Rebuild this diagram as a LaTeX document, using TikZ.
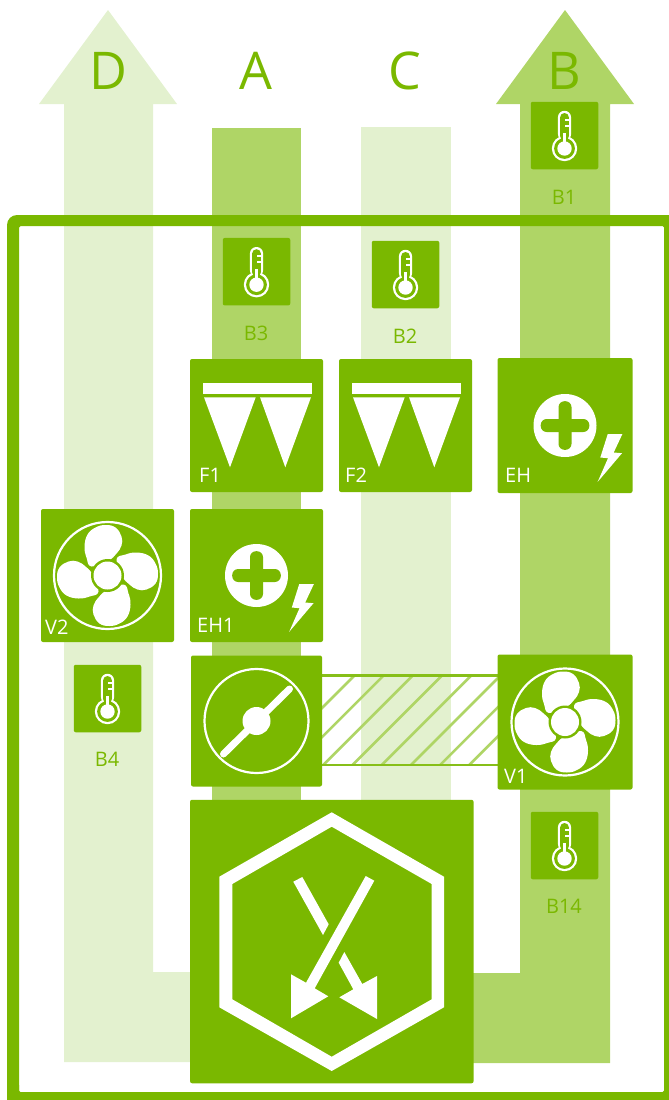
\documentclass[tikz,border=0pt]{standalone}
\usepackage{fontspec}
\setmainfont{Open Sans}
\definecolor{main}{HTML}{7AB800}
\definecolor{mid}{HTML}{AFD566}
\definecolor{pale}{HTML}{E3F1CF}
\tikzset{
  x=1pt,y=-1pt,
  panel/.style={fill=main,rounded corners=2pt,inner sep=0pt,outer sep=0pt,minimum width=#1,minimum height=#1},
  panel/.default=133pt,
  biglabel/.style={text=main,inner sep=0pt,anchor=base,font=\fontsize{52}{60}\selectfont},
  sensorlabel/.style={text=main,inner sep=0pt,anchor=base,font=\fontsize{20}{24}\selectfont},
  iconlabel/.style={text=white,inner sep=0pt,anchor=base west,font=\fontsize{20}{24}\selectfont},
  thermo/.pic={
    \fill[white] (0,13) circle (12.7);
    \fill[white,rounded corners=6.5pt] (-6.6,5) rectangle (6.6,-24.7);
    \fill[main] (0,13) circle (10.4);
    \fill[main,rounded corners=4.4pt] (-4.4,5) rectangle (4.4,-22.5);
    \fill[white] (0,13) circle (7.2);
    \fill[white] (-1.5,-2.5) rectangle (1.5,10);
    \fill[white] (0,-16.6) rectangle (5,-14.6);
    \fill[white] (0,-10.4) rectangle (5,-8.4);
  },
  filtericon/.pic={
    \fill[white] (-53.5,-42.5) rectangle (55.5,-31.5);
    \fill[white] (-52.5,-28.2) -- (-0.8,-28.2) -- (-26.5,41.8) -- cycle;
    \fill[white] (3.5,-28.2) -- (54.5,-28.2) -- (28.8,41.8) -- cycle;
  },
  heatericon/.pic={
    \fill[white] (0,0) circle (31.5);
    \fill[main,rounded corners=6pt] (-24.3,-6.5) rectangle (24.3,6.5);
    \fill[main,rounded corners=6pt] (-6.5,-24.3) rectangle (6.5,24.3);
    \fill[white] (42.7,8.7) -- (57.3,8.7) -- (48.7,27) -- (57,27.7) -- (32.7,56.3) -- (43,32.7) -- (35.3,32) -- cycle;
  },
  fanicon/.pic={
    \draw[white,line width=2.2pt] (0,0) circle (53.5);
    \foreach \a in {0,90,180,270}
      \fill[white,rotate=\a] plot[smooth cycle,tension=0.7] coordinates
        {(-16,-9) (-21,-18) (-23,-29) (-20,-41) (-12,-48) (-2,-50.5) (8,-48) (14,-39) (14,-30) (9,-22) (1,-15)};
    \fill[main] (0,0) circle (16.5);
    \fill[white] (0,0) circle (14);
  },
  dampericon/.pic={
    \draw[white,line width=2.2pt] (0,0) circle (52);
    \fill[white] (0,0) circle (14);
    \draw[white,line width=7pt,line cap=round] (-33,33) -- (33,-32);
  }
}
\begin{document}
\begin{tikzpicture}
\useasboundingbox (0,0) rectangle (669,1100);
\clip (0,0) rectangle (669,1100);
% air streams
\fill[pale] (108,10) -- (177,104) -- (153,104) -- (153,972) -- (200,972) -- (200,1062) -- (64,1062) -- (64,104) -- (39,104) -- cycle;
\fill[mid] (565,10) -- (634,104) -- (610,104) -- (610,1063) -- (460,1063) -- (460,973) -- (520,973) -- (520,104) -- (496,104) -- cycle;
\fill[mid] (212,128) rectangle (301,810);
\fill[pale] (361,127) rectangle (451,810);
% by-pass duct
\begin{scope}
  \clip (322,676) rectangle (498,765);
  \foreach \k in {-2,...,5}
    \draw[mid,line width=2.6pt] ({323.3+29.2*\k},765) -- ({323.3+29.2*\k+100},665);
\end{scope}
\coordinate (ducttl) at (322,675.5);
\coordinate (ducttr) at (498,675.5);
\coordinate (ductbl) at (322,765.2);
\coordinate (ductbr) at (498,765.2);
\draw[main!75!mid,line width=2.4pt] (ducttl) -- (ducttr);
\draw[main!75!mid,line width=2.4pt] (ductbl) -- (ductbr);
% casing
\fill[main,even odd rule]
  [rounded corners=10pt] (7,215) -- (700,215) -- (700,1130) -- (7,1130) -- cycle
  [rounded corners=1.5pt] (19,226) -- (664,226) -- (664,1092) -- (19,1092) -- cycle;
\fill[main] (7,1085) -- (19,1085) -- (19,1100) -- (15,1100) .. controls (10,1100) and (7,1097) .. (7,1092) -- cycle;
% column letters
\node[biglabel] (labelD) at (108,89) {D};
\node[biglabel] (labelA) at (256,89) {A};
\node[biglabel] (labelC) at (405,89) {C};
\node[biglabel] (labelB) at (564,89) {B};
% temperature sensors
\node[panel=67.5pt] (boxB1) at (564.5,135.5) {};
\pic at (boxB1.center) {thermo};
\node[sensorlabel] (nameB1) at (564,204) {B1};
\node[panel=67.5pt] (boxB3) at (256.5,271.7) {};
\pic at (boxB3.center) {thermo};
\node[sensorlabel] (nameB3) at (256,340) {B3};
\node[panel=67.5pt] (boxB2) at (405.5,274.5) {};
\pic at (boxB2.center) {thermo};
\node[sensorlabel] (nameB2) at (405,343) {B2};
\node[panel=67.5pt] (boxB4) at (107.5,698.5) {};
\pic at (boxB4.center) {thermo};
\node[sensorlabel] (nameB4) at (107,766) {B4};
\node[panel=67.5pt] (boxB14) at (564.5,845.5) {};
\pic at (boxB14.center) {thermo};
\node[sensorlabel] (nameB14) at (564,913) {B14};
% filters
\node[panel] (boxF1) at (256.5,425.5) {};
\pic at (boxF1.center) {filtericon};
\node[iconlabel] (nameF1) at (199,482) {F1};
\node[panel] (boxF2) at (405.5,425.5) {};
\pic at (boxF2.center) {filtericon};
\node[iconlabel] (nameF2) at (345,482) {F2};
% heaters
\node[panel=135pt] (boxEH) at (565,425.5) {};
\pic at (boxEH.center) {heatericon};
\node[iconlabel] (nameEH) at (505,482) {EH};
\node[panel] (boxEH1) at (256.5,575.5) {};
\pic at (boxEH1.center) {heatericon};
\node[iconlabel] (nameEH1) at (197,632) {EH1};
% fans
\node[panel] (boxV2) at (107.5,575.5) {};
\pic at (boxV2.center) {fanicon};
\node[iconlabel] (nameV2) at (45,634) {V2};
\node[panel=135pt] (boxV1) at (565,722) {};
\pic at (boxV1.center) {fanicon};
\node[iconlabel] (nameV1) at (504,783) {V1};
% damper
\node[panel=131pt] (boxDamper) at (256.5,721) {};
\pic at (boxDamper.center) {dampericon};
% heat exchanger
\node[panel=283.5pt] (boxHX) at (331.8,941.5) {};
\fill[white,even odd rule]
  (331.7,812.3) -- (444,876.7) -- (444,1007.3) -- (331.7,1071) -- (219.3,1007.3) -- (219.3,876.7) -- cycle
  (331.7,826.7) -- (431.7,884) -- (431.7,999.3) -- (331.7,1056.7) -- (232.3,999.3) -- (232.3,884) -- cycle;
\fill[white] (365.7,876) -- (374.3,880.7) -- (314.7,988.3) -- (328.3,996.3) -- (291,1018.3) -- (291,974.3) -- (306,982.7) -- cycle;
\fill[white] (293.3,881.7) -- (302.3,877) -- (328.7,924.3) -- (323,935) -- cycle;
\fill[white] (344.3,952) -- (338.7,962.7) -- (353.3,989.3) -- (339.3,997.3) -- (377,1019) -- (377,976) -- (362.3,984) -- cycle;
\end{tikzpicture}
\end{document}
